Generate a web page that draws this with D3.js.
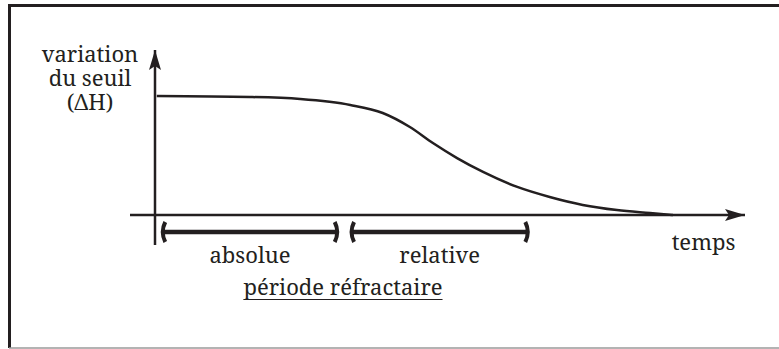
<!DOCTYPE html>
<html>
<head>
<meta charset="utf-8">
<script src="https://cdn.jsdelivr.net/npm/d3@7"></script>
</head>
<body style="margin:0">
<svg id="chart" width="779" height="349"></svg>
<script>
// Threshold variation after a spike (arbitrary units)
const curveTime  = [0.3, 16.1, 24.6, 33.1, 38.6, 43.2, 47.1, 51.2, 55.6, 61.4, 66.9, 72.5, 78.3, 83.9, 87.8];
const curveValue = [72.1, 71.5, 70.3, 66.7, 61.8, 53.3, 43.6, 34.5, 26.1, 17.0, 10.9, 6.1, 3.0, 1.2, 0];

// Refractory periods
const periodNames = ["absolue", "relative"];
const periodStart = [1.4, 33.4];
const periodEnd   = [30.8, 63.1];

const yLabelLines = ["variation", "du seuil", "(ΔH)"];
const xLabel = "temps";
const periodTitle = "période réfractaire";

const ink = "#231f20";
const fontFamily = "Noto Serif";
const fontSize = 22;
const svg = d3.select("#chart");

const x = d3.scaleLinear().domain([0, 100]).range([155, 745]);
const y = d3.scaleLinear().domain([0, 100]).range([215, 50]);

// frame
svg.append("line").attr("x1", 8).attr("x2", 779).attr("y1", 5.5).attr("y2", 5.5)
  .attr("stroke", ink).attr("stroke-width", 3);
svg.append("line").attr("x1", 9.5).attr("x2", 9.5).attr("y1", 4).attr("y2", 348)
  .attr("stroke", ink).attr("stroke-width", 3);
svg.append("line").attr("x1", 9).attr("x2", 779).attr("y1", 348).attr("y2", 348)
  .attr("stroke", "#9a9a9a").attr("stroke-width", 1.5);

// arrow heads
const defs = svg.append("defs");
defs.append("marker").attr("id", "arrow")
  .attr("viewBox", "0 0 20 12").attr("refX", 20).attr("refY", 6)
  .attr("markerWidth", 20).attr("markerHeight", 12)
  .attr("markerUnits", "userSpaceOnUse").attr("orient", "auto")
  .append("path").attr("d", "M0,0 L20,6 L0,12 L4,6 Z").attr("fill", ink);

// axes
svg.append("line")
  .attr("x1", x(0)).attr("x2", x(0))
  .attr("y1", 245).attr("y2", y(100))
  .attr("stroke", ink).attr("stroke-width", 2.5)
  .attr("marker-end", "url(#arrow)");
svg.append("line")
  .attr("x1", 130).attr("x2", x(100))
  .attr("y1", y(0)).attr("y2", y(0))
  .attr("stroke", ink).attr("stroke-width", 2.5)
  .attr("marker-end", "url(#arrow)");

// threshold curve
const pts = curveTime.map((t, i) => [t, curveValue[i]]);
svg.append("path")
  .datum(pts)
  .attr("fill", "none")
  .attr("stroke", ink)
  .attr("stroke-width", 2.5)
  .attr("d", d3.line().x(d => x(d[0])).y(d => y(d[1])).curve(d3.curveMonotoneX));

// centred label: placed at its left edge after measuring
function label(sel, txt, cx, cy) {
  const t = sel.append("text")
    .attr("y", cy)
    .attr("font-family", fontFamily)
    .attr("font-size", fontSize)
    .attr("fill", ink)
    .text(txt);
  const w = t.node().getComputedTextLength();
  t.attr("x", cx - w / 2);
  return t;
}

// period brackets
const by = 232;
periodNames.forEach((name, i) => {
  const x0 = x(periodStart[i]), x1 = x(periodEnd[i]);
  const g = svg.append("g");
  g.append("line").attr("x1", x0).attr("x2", x1).attr("y1", by).attr("y2", by)
    .attr("stroke", ink).attr("stroke-width", 4.5);
  // curved end caps
  g.append("path")
    .attr("d", `M${x0 + 2},${by - 10} Q${x0 - 3},${by} ${x0 + 2},${by + 10}`)
    .attr("fill", "none").attr("stroke", ink).attr("stroke-width", 4);
  g.append("path")
    .attr("d", `M${x1 - 2},${by - 10} Q${x1 + 3},${by} ${x1 - 2},${by + 10}`)
    .attr("fill", "none").attr("stroke", ink).attr("stroke-width", 4);
  label(g, name, (x0 + x1) / 2, 262.5);
});

// period title, underlined
const title = label(svg, periodTitle, 343, 295);
const tb = title.node().getBBox();
svg.append("line")
  .attr("x1", tb.x).attr("x2", tb.x + tb.width)
  .attr("y1", 299.5).attr("y2", 299.5)
  .attr("stroke", ink).attr("stroke-width", 1.2);

// axis labels
label(svg, xLabel, 703.5, 250);
const yl = svg.append("g");
yLabelLines.forEach((t, i) => label(yl, t, 90, 62 + i * 24));
</script>
</body>
</html>
